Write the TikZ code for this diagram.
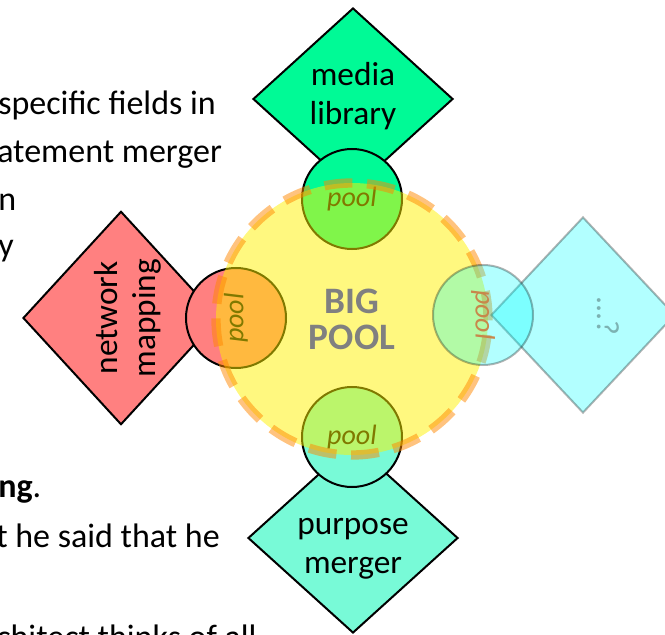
\documentclass[tikz,border=0pt]{standalone}
\usepackage{fontspec}
\setmainfont{Carlito}
\usetikzlibrary{shapes.geometric}

\definecolor{mediagreen}{RGB}{0,250,150}
\definecolor{purposeaqua}{RGB}{120,250,215}
\definecolor{netred}{RGB}{255,128,128}
\definecolor{unknowncyan}{RGB}{0,255,255}
\definecolor{poolorange}{RGB}{255,135,0}
\definecolor{poolbrown}{RGB}{200,135,75}

\begin{document}
\begin{tikzpicture}[x=0.75pt, y=-0.75pt,
    slidetext/.style={anchor=base west, inner sep=0pt, font=\fontsize{25.5}{30}\selectfont},
    toolbox/.style={diamond, draw=black, line width=1.5pt, inner sep=0pt},
    boxtext/.style={align=center, inner sep=0pt, font=\fontsize{25}{29}\selectfont},
    poolcirc/.style={circle, draw=black, line width=1.5pt, minimum size=75pt, inner sep=0pt, font=\fontsize{21}{24}\selectfont\itshape}]

    \useasboundingbox (0,0) rectangle (665,635);
    \clip (0,0) rectangle (665,635);

    % Texto de la diapositiva
    \node[slidetext] (line1) at (-2,115) {specific fields in};
    \node[slidetext] (line2) at (-3,162) {atement merger};
    \node[slidetext] (line3) at (-2,210) {n};
    \node[slidetext] (line4) at (-2,257) {y};
    \node[slidetext] (line5) at (-2,497) {\textbf{ng}.};
    \node[slidetext] (line6) at (-4,547) {t he said that he};
    \node[slidetext] (line7) at (-4,648) {chitect thinks of all};

    % Rombos
    \node[toolbox, fill=mediagreen, minimum width=150pt, minimum height=136.5pt] (media) at (353,99) {};
    \node[boxtext] (mediatext) at ([yshift=2pt]media.center) {media\\library};
    \node[toolbox, fill=netred, rotate=90, minimum width=160pt, minimum height=147pt] (network) at (121,318) {};
    \node[boxtext, rotate=90] (networktext) at ([xshift=5pt]network.center) {network\\mapping};
    \node[toolbox, fill=purposeaqua, minimum width=157.5pt, minimum height=142.5pt] (purpose) at (353,538) {};
    \node[boxtext] (purposetext) at ([yshift=-8pt]purpose.center) {purpose\\merger};

    % Pools pequenos
    \node[poolcirc, fill=mediagreen] (pooltop) at (352,199) {pool};
    \node[poolcirc, fill=netred, rotate=90] (poolleft) at (236,318) {pool};
    \node[poolcirc, fill=purposeaqua] (poolbottom) at (352,437) {pool};

    % Big pool
    \node[circle, minimum size=204pt, inner sep=0pt, fill=yellow, draw=poolorange,
          fill opacity=0.5, draw opacity=0.5, text opacity=1, line width=7pt, dash pattern=on 21pt off 11pt,
          text=gray, align=center, font=\fontsize{28}{27}\selectfont\bfseries] (bigpool) at (352,319) {BIG\\POOL};

    % Desconocido (transparente)
    \node[toolbox, fill=unknowncyan, rotate=-90, minimum width=147pt, minimum height=138pt, opacity=0.3] (unknown) at (583,315) {};
    \node[poolcirc, fill=unknowncyan, rotate=-90, opacity=0.3, text=poolbrown, text opacity=1] (poolright) at (483,315) {pool};
    \node[rotate=-90, inner sep=0pt, text opacity=0.3, font=\fontsize{24}{28}\selectfont] (dots) at (608,316) {...?};
\end{tikzpicture}
\end{document}
